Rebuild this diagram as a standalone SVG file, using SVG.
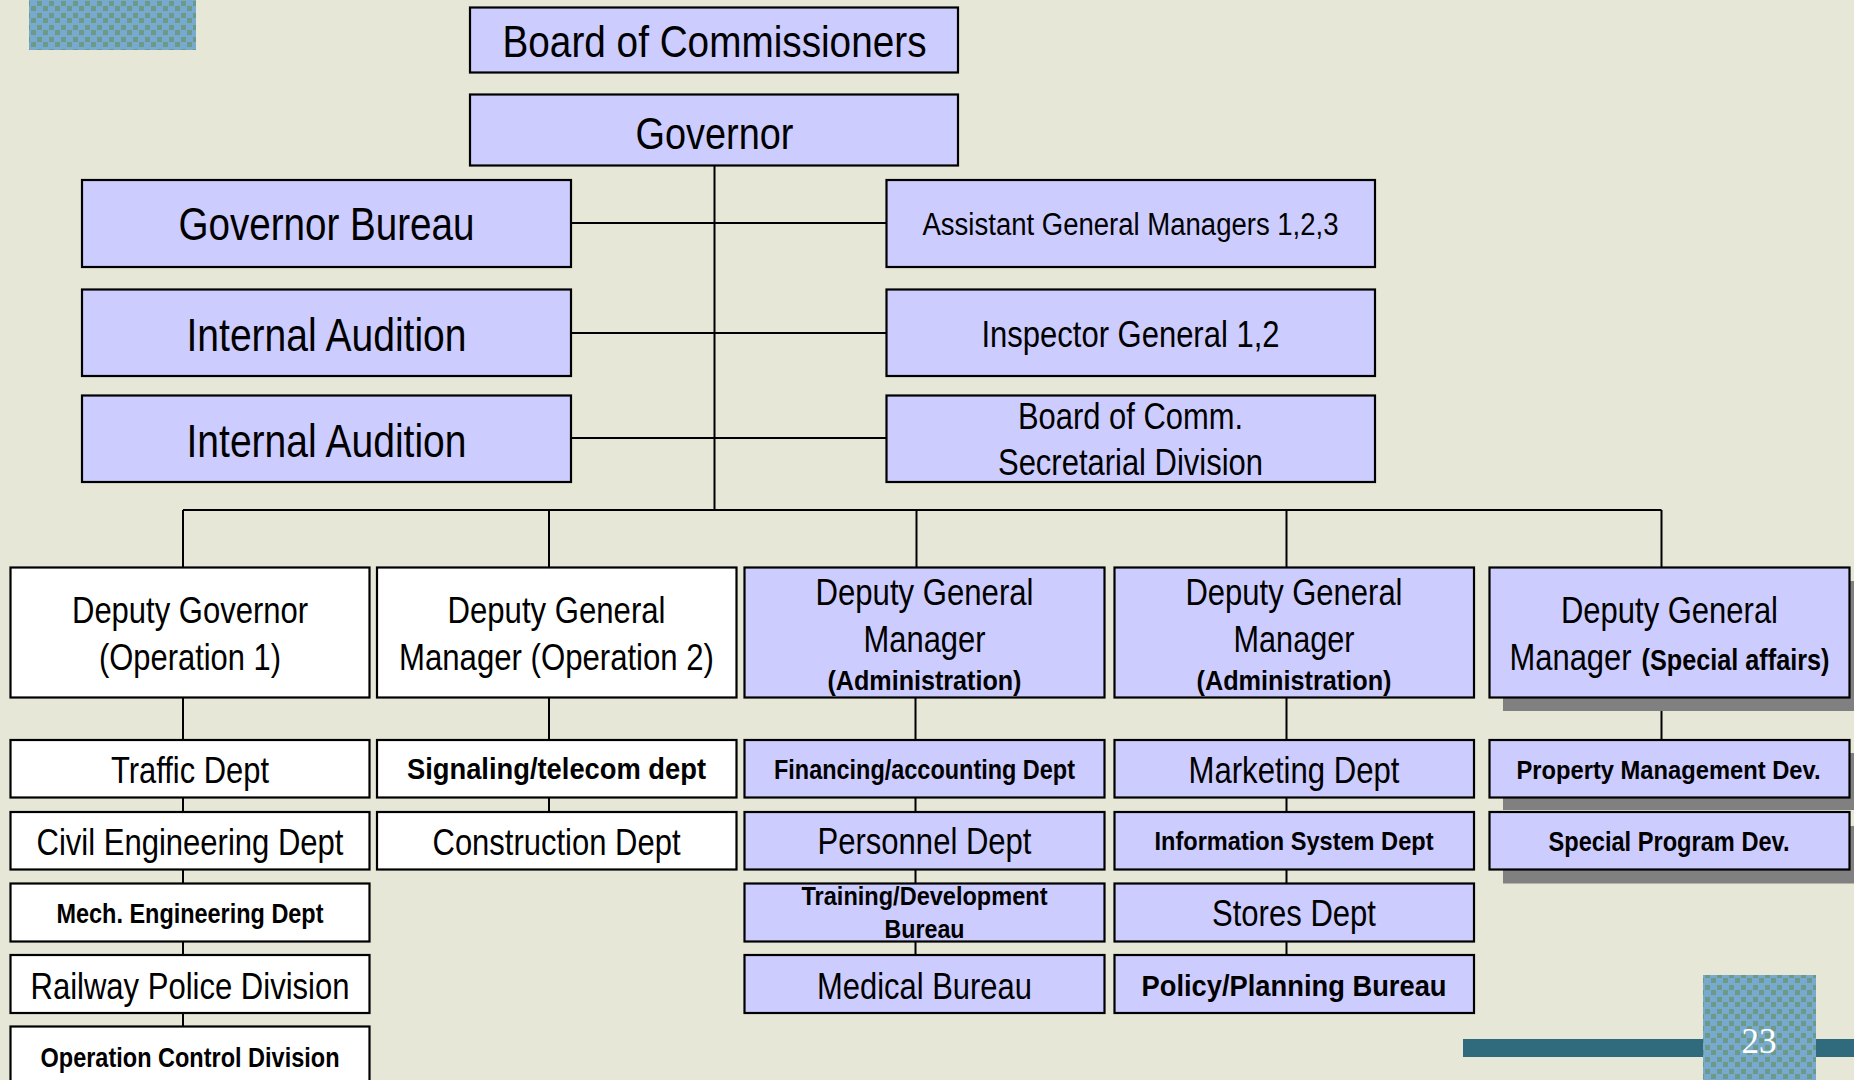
<svg xmlns="http://www.w3.org/2000/svg" width="1854" height="1080" viewBox="0 0 1854 1080">
<defs>
<style>
.bg{fill:#e7e7d8}
.box{fill:#ccccff;stroke:#000;stroke-width:2.2}
.wbox{fill:#ffffff;stroke:#000;stroke-width:2.2}
.shadow{fill:#808080}
.t{font-family:"Liberation Sans Narrow","Liberation Sans",Arial,sans-serif;fill:#000;text-anchor:middle}
.b{font-weight:bold}
.conn line{stroke:#000;stroke-width:2}
</style>
<pattern id="tex" width="160" height="160" patternUnits="userSpaceOnUse">
<rect width="160" height="160" fill="#e6e6d6"/>
<g stroke="#f5f5ec" stroke-width="2" stroke-linecap="round" opacity="0.9">
<line x1="5" y1="20" x2="40" y2="10"/><line x1="60" y1="5" x2="70" y2="40"/><line x1="90" y1="30" x2="130" y2="22"/>
<line x1="140" y1="10" x2="150" y2="50"/><line x1="20" y1="60" x2="30" y2="100"/><line x1="50" y1="80" x2="95" y2="70"/>
<line x1="110" y1="60" x2="120" y2="95"/><line x1="130" y1="100" x2="155" y2="80"/><line x1="10" y1="130" x2="55" y2="120"/>
<line x1="70" y1="110" x2="80" y2="150"/><line x1="95" y1="140" x2="140" y2="135"/><line x1="40" y1="150" x2="60" y2="125"/>
<line x1="75" y1="50" x2="100" y2="58"/><line x1="120" y1="120" x2="128" y2="150"/>
</g>
<g stroke="#d8d8c6" stroke-width="1.5" stroke-linecap="round" opacity="0.8">
<line x1="30" y1="40" x2="50" y2="55"/><line x1="100" y1="100" x2="125" y2="115"/><line x1="140" y1="150" x2="155" y2="125"/>
</g>
</pattern>
<pattern id="dots" width="12" height="12" patternUnits="userSpaceOnUse">
<rect width="12" height="12" fill="#78a9cf"/>
<rect x="1" y="1" width="5" height="5" fill="#6c9a86"/>
<rect x="7" y="6" width="5" height="5" fill="#6c9a86"/>
</pattern>
</defs>

<rect class="bg" x="0" y="0" width="1854" height="1080" fill="url(#tex)"/>

<g id="decor">
<rect x="29" y="0" width="167" height="50" fill="url(#dots)"/>
<rect x="1463" y="1039" width="391" height="18" fill="#2f6a7d"/>
<rect x="1703" y="975" width="113" height="105" fill="url(#dots)"/>
<text x="1759" y="1053" font-family="'Liberation Serif','Times New Roman',serif" font-size="35" fill="#ffffff" text-anchor="middle">23</text>
</g>

<g id="connectors" class="conn">
<line x1="714.5" y1="166" x2="714.5" y2="510"/>
<line x1="571" y1="223" x2="886" y2="223"/>
<line x1="571" y1="333" x2="886" y2="333"/>
<line x1="571" y1="438" x2="886" y2="438"/>
<line x1="183" y1="510" x2="1661.5" y2="510"/>
<line x1="183" y1="510" x2="183" y2="568"/>
<line x1="549" y1="510" x2="549" y2="568"/>
<line x1="916.5" y1="510" x2="916.5" y2="568"/>
<line x1="1286.5" y1="510" x2="1286.5" y2="568"/>
<line x1="1661.5" y1="510" x2="1661.5" y2="568"/>
<line x1="183" y1="697" x2="183" y2="1027"/>
<line x1="549" y1="697" x2="549" y2="812"/>
<line x1="915.5" y1="697" x2="915.5" y2="955"/>
<line x1="1286.5" y1="697" x2="1286.5" y2="955"/>
<line x1="1661.5" y1="697" x2="1661.5" y2="740"/>
</g>

<g id="board">
<rect class="box" x="470" y="7.5" width="488" height="65"/>
<text class="t" x="714.5" y="57" font-size="44" textLength="424" lengthAdjust="spacingAndGlyphs">Board of Commissioners</text>
</g>
<g id="governor">
<rect class="box" x="470" y="94.5" width="488" height="71"/>
<text class="t" x="714.5" y="149" font-size="45" textLength="158" lengthAdjust="spacingAndGlyphs">Governor</text>
</g>

<g id="governor-bureau">
<rect class="box" x="82" y="180" width="489" height="87"/>
<text class="t" x="326.5" y="240" font-size="46" textLength="296" lengthAdjust="spacingAndGlyphs">Governor Bureau</text>
</g>
<g id="internal-audition-1">
<rect class="box" x="82" y="289.5" width="489" height="86.5"/>
<text class="t" x="326.5" y="351" font-size="46" textLength="280" lengthAdjust="spacingAndGlyphs">Internal Audition</text>
</g>
<g id="internal-audition-2">
<rect class="box" x="82" y="395.5" width="489" height="86.5"/>
<text class="t" x="326.5" y="457" font-size="46" textLength="280" lengthAdjust="spacingAndGlyphs">Internal Audition</text>
</g>

<g id="assistant-gm">
<rect class="box" x="886.5" y="180" width="488.5" height="87"/>
<text class="t" x="1130.5" y="235" font-size="31" textLength="416" lengthAdjust="spacingAndGlyphs">Assistant General Managers 1,2,3</text>
</g>
<g id="inspector-general">
<rect class="box" x="886.5" y="289.5" width="488.5" height="86.5"/>
<text class="t" x="1130.5" y="347" font-size="37" textLength="298" lengthAdjust="spacingAndGlyphs">Inspector General 1,2</text>
</g>
<g id="secretarial">
<rect class="box" x="886.5" y="395.5" width="488.5" height="86.5"/>
<text class="t" x="1130.5" y="429" font-size="36" textLength="225" lengthAdjust="spacingAndGlyphs">Board of Comm.</text>
<text class="t" x="1130.5" y="475" font-size="36" textLength="265" lengthAdjust="spacingAndGlyphs">Secretarial Division</text>
</g>

<!-- Column 1 -->
<g id="deputy-governor-op1">
<rect class="wbox" x="10.5" y="567.5" width="359" height="130"/>
<text class="t" x="190" y="623" font-size="37" textLength="236" lengthAdjust="spacingAndGlyphs">Deputy Governor</text>
<text class="t" x="190" y="670" font-size="37" textLength="182" lengthAdjust="spacingAndGlyphs">(Operation 1)</text>
</g>
<g id="traffic">
<rect class="wbox" x="10.5" y="740" width="359" height="57.5"/>
<text class="t" x="190" y="783" font-size="37" textLength="158" lengthAdjust="spacingAndGlyphs">Traffic Dept</text>
</g>
<g id="civil">
<rect class="wbox" x="10.5" y="812" width="359" height="57.5"/>
<text class="t" x="190" y="855" font-size="37" textLength="307" lengthAdjust="spacingAndGlyphs">Civil Engineering Dept</text>
</g>
<g id="mech">
<rect class="wbox" x="10.5" y="883.5" width="359" height="58"/>
<text class="t b" x="190" y="923" font-size="27" textLength="267" lengthAdjust="spacingAndGlyphs">Mech. Engineering Dept</text>
</g>
<g id="police">
<rect class="wbox" x="10.5" y="955" width="359" height="58"/>
<text class="t" x="190" y="999" font-size="37" textLength="319" lengthAdjust="spacingAndGlyphs">Railway Police Division</text>
</g>
<g id="opcontrol">
<rect class="wbox" x="10.5" y="1026.5" width="359" height="60"/>
<text class="t b" x="190" y="1067" font-size="28" textLength="299" lengthAdjust="spacingAndGlyphs">Operation Control Division</text>
</g>

<!-- Column 2 -->
<g id="dgm-op2">
<rect class="wbox" x="377" y="567.5" width="359.5" height="130"/>
<text class="t" x="556.5" y="623" font-size="37" textLength="218" lengthAdjust="spacingAndGlyphs">Deputy General</text>
<text class="t" x="556.5" y="670" font-size="37" textLength="315" lengthAdjust="spacingAndGlyphs">Manager (Operation 2)</text>
</g>
<g id="signaling">
<rect class="wbox" x="377" y="740" width="359.5" height="57.5"/>
<text class="t b" x="556.5" y="779" font-size="29" textLength="299" lengthAdjust="spacingAndGlyphs">Signaling/telecom dept</text>
</g>
<g id="construction">
<rect class="wbox" x="377" y="812" width="359.5" height="57.5"/>
<text class="t" x="556.5" y="855" font-size="37" textLength="248" lengthAdjust="spacingAndGlyphs">Construction Dept</text>
</g>

<!-- Column 3 -->
<g id="dgm-admin-1">
<rect class="box" x="744.5" y="567.5" width="360" height="130"/>
<text class="t" x="924.5" y="605" font-size="37" textLength="218" lengthAdjust="spacingAndGlyphs">Deputy General</text>
<text class="t" x="924.5" y="652" font-size="37" textLength="122" lengthAdjust="spacingAndGlyphs">Manager</text>
<text class="t b" x="924.5" y="690" font-size="28" textLength="194" lengthAdjust="spacingAndGlyphs">(Administration)</text>
</g>
<g id="financing">
<rect class="box" x="744.5" y="740" width="360" height="57.5"/>
<text class="t b" x="924.5" y="779" font-size="27" textLength="301" lengthAdjust="spacingAndGlyphs">Financing/accounting Dept</text>
</g>
<g id="personnel">
<rect class="box" x="744.5" y="812" width="360" height="57.5"/>
<text class="t" x="924.5" y="854" font-size="37" textLength="214" lengthAdjust="spacingAndGlyphs">Personnel Dept</text>
</g>
<g id="training">
<rect class="box" x="744.5" y="883.5" width="360" height="58"/>
<text class="t b" x="924.5" y="905" font-size="26" textLength="246" lengthAdjust="spacingAndGlyphs">Training/Development</text>
<text class="t b" x="924.5" y="938" font-size="26" textLength="80" lengthAdjust="spacingAndGlyphs">Bureau</text>
</g>
<g id="medical">
<rect class="box" x="744.5" y="955" width="360" height="58"/>
<text class="t" x="924.5" y="999" font-size="37" textLength="215" lengthAdjust="spacingAndGlyphs">Medical Bureau</text>
</g>

<!-- Column 4 -->
<g id="dgm-admin-2">
<rect class="box" x="1114.5" y="567.5" width="359.5" height="130"/>
<text class="t" x="1294" y="605" font-size="37" textLength="217" lengthAdjust="spacingAndGlyphs">Deputy General</text>
<text class="t" x="1294" y="652" font-size="37" textLength="121" lengthAdjust="spacingAndGlyphs">Manager</text>
<text class="t b" x="1294" y="690" font-size="28" textLength="195" lengthAdjust="spacingAndGlyphs">(Administration)</text>
</g>
<g id="marketing">
<rect class="box" x="1114.5" y="740" width="359.5" height="57.5"/>
<text class="t" x="1294" y="783" font-size="37" textLength="211" lengthAdjust="spacingAndGlyphs">Marketing Dept</text>
</g>
<g id="infosys">
<rect class="box" x="1114.5" y="812" width="359.5" height="57.5"/>
<text class="t b" x="1294" y="850" font-size="26" textLength="279" lengthAdjust="spacingAndGlyphs">Information System Dept</text>
</g>
<g id="stores">
<rect class="box" x="1114.5" y="883.5" width="359.5" height="58"/>
<text class="t" x="1294" y="926" font-size="36" textLength="164" lengthAdjust="spacingAndGlyphs">Stores Dept</text>
</g>
<g id="policy">
<rect class="box" x="1114.5" y="955" width="359.5" height="58"/>
<text class="t b" x="1294" y="996" font-size="29" textLength="305" lengthAdjust="spacingAndGlyphs">Policy/Planning Bureau</text>
</g>

<!-- Column 5 -->
<g id="dgm-special">
<rect class="shadow" x="1503" y="581" width="351" height="130"/>
<rect class="box" x="1489.5" y="567.5" width="360" height="130"/>
<text class="t" x="1669.5" y="623" font-size="37" textLength="217" lengthAdjust="spacingAndGlyphs">Deputy General</text>
<text class="t" x="1570.5" y="670" font-size="37" textLength="122" lengthAdjust="spacingAndGlyphs">Manager</text>
<text class="t b" x="1735.5" y="670" font-size="29" textLength="188" lengthAdjust="spacingAndGlyphs">(Special affairs)</text>
</g>
<g id="property">
<rect class="shadow" x="1503" y="753" width="351" height="57"/>
<rect class="box" x="1489.5" y="740" width="360" height="57.5"/>
<text class="t b" x="1668.5" y="779" font-size="26" textLength="304" lengthAdjust="spacingAndGlyphs">Property Management Dev.</text>
</g>
<g id="special-program">
<rect class="shadow" x="1503" y="826" width="351" height="57.5"/>
<rect class="box" x="1489.5" y="812" width="360" height="57.5"/>
<text class="t b" x="1669" y="851" font-size="28" textLength="241" lengthAdjust="spacingAndGlyphs">Special Program Dev.</text>
</g>
</svg>
